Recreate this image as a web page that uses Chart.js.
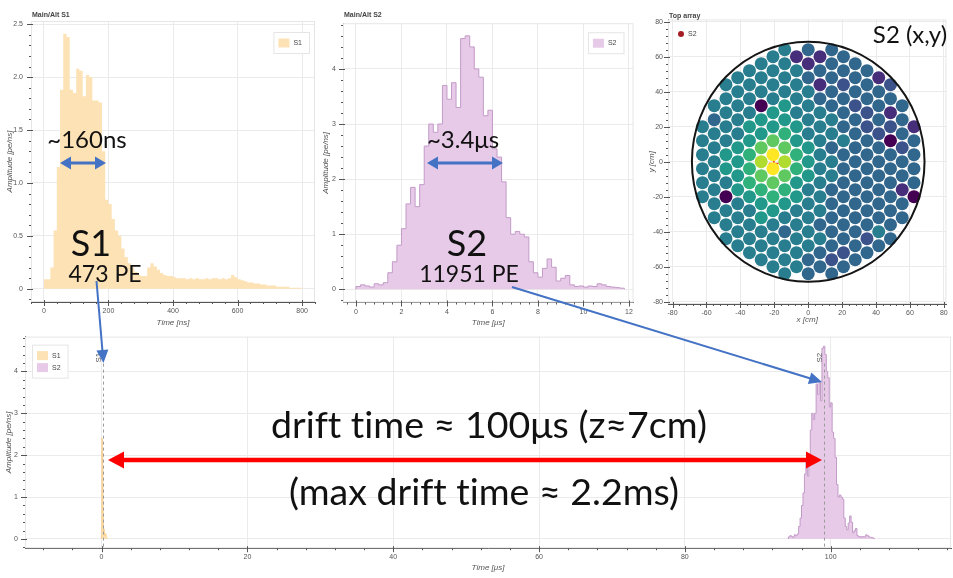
<!DOCTYPE html>
<html>
<head>
<meta charset="utf-8">
<title>S1 / S2 event display</title>
<script src="https://cdn.jsdelivr.net/npm/chart.js@4.4.1/dist/chart.umd.min.js"></script>
<style>
  html, body { margin: 0; padding: 0; background: #fff; }
  body { position: relative; width: 953px; height: 578px; overflow: hidden; }
  .panel { position: absolute; }
  #notes { position: absolute; left: 0; top: 0; }
  #notes text { font-family: Lato, 'Open Sans', sans-serif; fill: #111; text-anchor: middle;
    font-variant-ligatures: none; font-feature-settings: "liga" 0, "clig" 0; }
</style>
</head>
<body>
<div class="panel" style="left:0;top:0;width:320px;height:330px"><canvas id="s1Chart"></canvas></div>
<div class="panel" style="left:314px;top:0;width:326px;height:330px"><canvas id="s2Chart"></canvas></div>
<div class="panel" style="left:640px;top:0;width:313px;height:330px"><canvas id="topChart"></canvas></div>
<div class="panel" style="left:0;top:330px;width:953px;height:248px"><canvas id="eventChart"></canvas></div>
<svg id="notes" width="953" height="578">
  <text x="87" y="148" font-size="24">~160ns</text>
  <text x="91" y="256" font-size="36">S1</text>
  <text x="105" y="282" font-size="23">473 PE</text>
  <text x="463" y="148" font-size="24">~3.4μs</text>
  <text x="467" y="256" font-size="36">S2</text>
  <text x="469" y="282" font-size="23">11951 PE</text>
  <text x="910" y="43" font-size="24">S2 (x,y)</text>
  <text x="489" y="438" font-size="37.5">drift time ≈ 100μs (z≈7cm)</text>
  <text x="484" y="505" font-size="37.5">(max drift time ≈ 2.2ms)</text>
  <g id="arrows"></g>
</svg>
<script>
// S1 waveform: 10 ns bins from 0 ns, amplitude in pe/ns
const s1BinNs = 10;
const s1Amp = [
  0.09, 0.09, 0.2, 0.55, 1.15, 1.88, 2.41, 2.38, 1.88, 1.85,
  2.08, 2.06, 1.82, 2.02, 2.0, 1.78, 1.78, 1.76, 1.3, 0.84,
  0.8, 0.66, 0.55, 0.5, 0.38, 0.3, 0.24, 0.2, 0.16, 0.13,
  0.12, 0.12, 0.2, 0.24, 0.21, 0.18, 0.15, 0.13, 0.12, 0.12,
  0.11, 0.1, 0.1, 0.1, 0.09, 0.1, 0.09, 0.1, 0.09, 0.09,
  0.1, 0.09, 0.1, 0.1, 0.09, 0.1, 0.09, 0.1, 0.13, 0.11,
  0.09, 0.08, 0.07, 0.06, 0.06, 0.05, 0.05, 0.04, 0.04, 0.03,
  0.03, 0.03, 0.02, 0.02, 0.02, 0.02, 0.01, 0.01, 0.01, 0.01
];

// S2 waveform: 0.2 us bins from 0 us, amplitude in pe/ns
const s2BinUs = 0.2;
const s2Amp = [
  0.05, 0.08, 0.06, 0.04, 0.1, 0.08, 0.12, 0.3, 0.5, 0.8,
  1.1, 1.55, 1.85, 1.5, 1.9, 2.6, 3.0, 2.85, 3.0, 3.7,
  3.45, 3.75, 3.3, 4.55, 4.6, 4.4, 4.0, 3.85, 3.15, 3.25,
  2.55, 2.4, 1.95, 1.3, 1.0, 1.05, 1.0, 0.95, 0.5, 0.3,
  0.22, 0.38, 0.55, 0.4, 0.15, 0.2, 0.25, 0.08, 0.05, 0.06,
  0.04, 0.06, 0.05, 0.1, 0.08, 0.05, 0.04, 0.03, 0.02
];

// where the peaks sit in the full event (us)
const s2StartUs = 94.2;
const peakNames = ['S1', 'S2'];
const peakTimesUs = [0.2, 99.1];

// tick labels
const s1TicksX = [0, 200, 400, 600, 800];
const s1TicksY = [0, 0.5, 1, 1.5, 2, 2.5];
const s2TicksX = [0, 2, 4, 6, 8, 10, 12];
const s2TicksY = [0, 1, 2, 3, 4];
const topTicks = [-80, -60, -40, -20, 0, 20, 40, 60, 80];
const eventTicksX = [0, 20, 40, 60, 80, 100];
const eventTicksY = [0, 1, 2, 3, 4];

// top array: colour level of each PMT (0 dark .. 9 bright), one string per
// column from x = -9 to +9 column steps, read from top to bottom
const pmtColumns = [
  '444444',
  '434444444',
  '444445540444',
  '4444455554444',
  '44445566654444',
  '444055787655444',
  '4444557997654444',
  '44445567876543444',
  '1444455665544444',
  '31344445554444433',
  '1313444444443433',
  '33333443443333323',
  '3323334333333323',
  '333233333333333',
  '33322333333323',
  '1333233333343',
  '231203333333',
  '333233133',
  '133330'
];
const pmtLevel = [0.0, 0.13, 0.25, 0.33, 0.42, 0.53, 0.64, 0.75, 0.88, 1.0];
const pmtPitchCm = 8.0;
const pmtColumnStepCm = 6.93;
const tpcRadiusCm = 68.6;
const s2PosX = [-20.3];
const s2PosY = [-1.0];

const S1_FILL = '#fde2b5';
const S1_LINE = '#f8cf8f';
const S2_FILL = '#e7c9e8';
const S2_LINE = '#c39bc8';

const viridisStops = ['#440154', '#482475', '#414487', '#355f8d', '#2a788e', '#21918c',
  '#22a884', '#44bf70', '#7ad151', '#bddf26', '#fde725'];

function viridis(t) {
  const f = Math.max(0, Math.min(1, t)) * 10;
  const i = Math.min(9, Math.floor(f));
  const a = viridisStops[i], b = viridisStops[i + 1], k = f - i;
  const ch = (h, o) => parseInt(h.substr(o, 2), 16);
  const mix = o => Math.round(ch(a, o) + (ch(b, o) - ch(a, o)) * k);
  return `rgb(${mix(1)},${mix(3)},${mix(5)})`;
}

function histPoints(values, binWidth, start) {
  const pts = [{ x: start, y: 0 }];
  values.forEach((v, i) => pts.push({ x: start + i * binWidth, y: v }));
  pts.push({ x: start + values.length * binWidth, y: 0 });
  return pts;
}

Chart.defaults.font.family = "'Liberation Sans', Arial, sans-serif";
Chart.defaults.color = '#555';

function axis(min, max, ticks, title, size, labelPad, titlePad) {
  return {
    type: 'linear', min, max,
    afterBuildTicks: s => { s.ticks = ticks.map(v => ({ value: v })); },
    afterFit: s => {
      if (s.isHorizontal()) { s.height = size; s.paddingLeft = 0; s.paddingRight = 0; }
      else { s.width = size; s.paddingTop = 0; s.paddingBottom = 0; }
    },
    grid: { color: '#ebebeb', drawTicks: false },
    border: { display: true, color: '#555', width: 1 },
    ticks: { font: { size: 7 }, color: '#555', padding: labelPad, maxRotation: 0, autoSkip: false },
    title: { display: true, text: title, color: '#555', font: { size: 8, style: 'italic' },
      padding: { top: titlePad, bottom: titlePad } }
  };
}

function drawTicks(ctx, scale, a, horizontal) {
  const major = scale.ticks[1].value - scale.ticks[0].value;
  const minor = major / 5;
  const k0 = Math.ceil(scale.min / minor - 1e-6), k1 = Math.floor(scale.max / minor + 1e-6);
  ctx.beginPath();
  for (let k = k0; k <= k1; k++) {
    const isMajor = k % 5 === 0;
    const p = Math.round(scale.getPixelForValue(k * minor)) + 0.5;
    if (horizontal) {
      ctx.moveTo(p, a.bottom - (isMajor ? 2 : 0));
      ctx.lineTo(p, a.bottom + (isMajor ? 4 : 2));
    } else {
      ctx.moveTo(a.left + (isMajor ? 2 : 0), p);
      ctx.lineTo(a.left - (isMajor ? 4 : 2), p);
    }
  }
  ctx.stroke();
}

const bokehLook = {
  id: 'bokehLook',
  beforeDatasetsDraw(chart) {
    const { ctx, chartArea: a } = chart;
    ctx.save();
    ctx.strokeStyle = '#e6e6e6';
    ctx.lineWidth = 1;
    ctx.strokeRect(a.left + 0.5, a.top + 0.5, a.width - 1, a.height - 1);
    ctx.restore();
  },
  afterDatasetsDraw(chart, args, o) {
    const { ctx, chartArea: a, scales: { x, y } } = chart;
    ctx.save();
    if (o.ring) {
      const cx = x.getPixelForValue(0), cy = y.getPixelForValue(0);
      ctx.beginPath();
      ctx.ellipse(cx, cy, x.getPixelForValue(o.ring) - cx, cy - y.getPixelForValue(o.ring), 0, 0, Math.PI * 2);
      ctx.strokeStyle = '#151515';
      ctx.lineWidth = 2;
      ctx.stroke();
    }
    if (o.peaks) {
      o.peaks.times.forEach((t, i) => {
        const px = Math.round(x.getPixelForValue(t)) + 0.5;
        ctx.beginPath();
        ctx.setLineDash([3, 3]);
        ctx.strokeStyle = '#9a9a9a';
        ctx.lineWidth = 1;
        ctx.moveTo(px, a.top + 27);
        ctx.lineTo(px, a.bottom);
        ctx.stroke();
        ctx.setLineDash([]);
        ctx.save();
        ctx.translate(px - 5, a.top + 21);
        ctx.rotate(-Math.PI / 2);
        ctx.font = "8px 'Liberation Sans'";
        ctx.fillStyle = '#555';
        ctx.textAlign = 'center';
        ctx.textBaseline = 'middle';
        ctx.fillText(o.peaks.names[i], 0, 0);
        ctx.restore();
      });
    }
    ctx.restore();
  },
  afterDraw(chart, args, o) {
    const { ctx, chartArea: a, scales: { x, y } } = chart;
    ctx.save();
    ctx.strokeStyle = '#555';
    ctx.lineWidth = 1;
    drawTicks(ctx, x, a, true);
    drawTicks(ctx, y, a, false);
    if (o.title) {
      ctx.font = "bold 7px 'Liberation Sans'";
      ctx.fillStyle = '#444';
      ctx.textBaseline = 'alphabetic';
      ctx.fillText(o.title, a.left + 1, a.top - o.titleDy);
    }
    if (o.legend) {
      const L = o.legend;
      ctx.font = "7px 'Liberation Sans'";
      const textW = Math.max(...L.items.map(it => ctx.measureText(it.label).width));
      const w = 5 + 11 + 4 + textW + 8;
      const h = L.items.length * 12 + 10;
      const left = L.right != null ? a.right - L.right - w : a.left + L.left;
      const top = a.top + L.top;
      if (L.box) {
        ctx.fillStyle = '#fff';
        ctx.fillRect(left, top, w, h);
        ctx.strokeStyle = '#e5e5e5';
        ctx.strokeRect(left + 0.5, top + 0.5, w - 1, h - 1);
      }
      ctx.textBaseline = 'middle';
      L.items.forEach((it, i) => {
        const cy = top + 5 + 6 + i * 12;
        if (it.dot) {
          ctx.beginPath();
          ctx.arc(left + 8, cy, 3, 0, Math.PI * 2);
          ctx.fillStyle = it.color;
          ctx.fill();
        } else {
          ctx.fillStyle = it.color;
          ctx.fillRect(left + 5, cy - 4.5, 11, 9);
        }
        ctx.fillStyle = '#444';
        ctx.fillText(it.label, left + (it.dot ? 15 : 20), cy);
      });
    }
    ctx.restore();
  }
};
Chart.register(bokehLook);

function baseOptions(padding, look, xAxis, yAxis) {
  return {
    responsive: true,
    maintainAspectRatio: false,
    animation: false,
    layout: { padding },
    plugins: { legend: { display: false }, tooltip: { enabled: false }, bokehLook: look },
    scales: { x: xAxis, y: yAxis },
    elements: { point: { radius: 0 }, line: { tension: 0 } }
  };
}

function stepSet(label, pts, fill, line, width) {
  return { label, data: pts, stepped: 'before', fill: 'origin', backgroundColor: fill,
    borderColor: line, borderWidth: width, pointRadius: 0 };
}

// S1 zoom
new Chart(document.getElementById('s1Chart'), {
  type: 'line',
  data: { datasets: [stepSet('S1', histPoints(s1Amp, s1BinNs, 0), S1_FILL, S1_FILL, 0)] },
  options: baseOptions({ top: 21, right: 5, left: 0, bottom: 0 },
    { title: 'Main/Alt S1', titleDy: 4,
      legend: { right: 5, top: 11, box: true, items: [{ label: 'S1', color: S1_FILL }] } },
    axis(-40, 840, s1TicksX, 'Time [ns]', 28, 5, 2.2),
    axis(-0.125, 2.53, s1TicksY, 'Amplitude [pe/ns]', 31, 8, 5.2))
});

// S2 zoom
new Chart(document.getElementById('s2Chart'), {
  type: 'line',
  data: { datasets: [stepSet('S2', histPoints(s2Amp, s2BinUs, 0), S2_FILL, S2_LINE, 1)] },
  options: baseOptions({ top: 23.2, right: 6.5, left: 0, bottom: 0 },
    { title: 'Main/Alt S2', titleDy: 6,
      legend: { right: 9, top: 9, box: true, items: [{ label: 'S2', color: S2_FILL }] } },
    axis(-0.57, 12.2, s2TicksX, 'Time [μs]', 27.5, 5, 2.2),
    axis(-0.24, 4.83, s2TicksY, 'Amplitude [pe/ns]', 29, 7, 6.7))
});

// top PMT array
const pmtPoints = [], pmtColors = [];
pmtColumns.forEach((col, c) => {
  const x = (c - (pmtColumns.length - 1) / 2) * pmtColumnStepCm;
  const n = col.length;
  for (let k = 0; k < n; k++) {
    pmtPoints.push({ x, y: ((n - 1) / 2 - k) * pmtPitchCm });
    pmtColors.push(viridis(pmtLevel[+col[k]]));
  }
});

new Chart(document.getElementById('topChart'), {
  type: 'scatter',
  data: {
    datasets: [
      { label: 'PMTs', data: pmtPoints, pointRadius: 6.5, backgroundColor: pmtColors, borderWidth: 0 },
      { label: 'S2', data: s2PosX.map((x, i) => ({ x, y: s2PosY[i] })), pointStyle: 'cross',
        pointRadius: 5, borderColor: '#e8341c', borderWidth: 1.6 }
    ]
  },
  options: baseOptions({ top: 19.4, right: 1.2, left: 0, bottom: 0 },
    { title: 'Top array', titleDy: 1.5, ring: tpcRadiusCm,
      legend: { left: 5, top: 3.6, box: false, items: [{ label: 'S2', color: '#a51d24', dot: true }] } },
    axis(-82.7, 81.5, topTicks, 'x [cm]', 26, 5, 5.2),
    axis(-81.3, 81.3, topTicks, 'y [cm]', 28, 5, 7.2))
});

// full event
new Chart(document.getElementById('eventChart'), {
  type: 'line',
  data: {
    datasets: [
      stepSet('S1', histPoints(s1Amp, s1BinNs / 1000, 0), S1_FILL, S1_LINE, 1),
      stepSet('S2', histPoints(s2Amp, s2BinUs, s2StartUs), S2_FILL, S2_LINE, 1)
    ]
  },
  options: baseOptions({ top: 6.6, right: 2, left: 0, bottom: 0 },
    { peaks: { names: peakNames, times: peakTimesUs },
      legend: { left: 7, top: 8, box: true,
        items: [{ label: 'S1', color: S1_FILL }, { label: 'S2', color: S2_FILL }] } },
    axis(-10.5, 116.5, eventTicksX, 'Time [μs]', 29.8, 5, 5.2),
    axis(-0.22, 4.83, eventTicksY, 'Amplitude [pe/ns]', 25, 7, 4.2))
});

// slide arrows
const NS = 'http://www.w3.org/2000/svg';
const arrowLayer = document.getElementById('arrows');
function head(tx, ty, fx, fy, len, half, color) {
  const d = Math.hypot(tx - fx, ty - fy), ux = (tx - fx) / d, uy = (ty - fy) / d;
  const bx = tx - ux * len, by = ty - uy * len;
  const p = document.createElementNS(NS, 'polygon');
  p.setAttribute('points', `${tx},${ty} ${bx - uy * half},${by + ux * half} ${bx + uy * half},${by - ux * half}`);
  p.setAttribute('fill', color);
  arrowLayer.appendChild(p);
  return [bx + ux * 1, by + uy * 1];
}
function arrow(x1, y1, x2, y2, color, width, len, half, both) {
  const [ex, ey] = head(x2, y2, x1, y1, len, half, color);
  let sx = x1, sy = y1;
  if (both) [sx, sy] = head(x1, y1, x2, y2, len, half, color);
  const l = document.createElementNS(NS, 'line');
  l.setAttribute('x1', sx); l.setAttribute('y1', sy);
  l.setAttribute('x2', ex); l.setAttribute('y2', ey);
  l.setAttribute('stroke', color); l.setAttribute('stroke-width', width);
  arrowLayer.appendChild(l);
}
arrow(60, 163, 106, 163, '#4472c4', 3, 11, 6.5, true);
arrow(427, 163, 503, 163, '#4472c4', 3, 11, 6.5, true);
arrow(96.5, 281, 103.5, 363, '#4472c4', 2, 13, 6, false);
arrow(512, 287, 822, 382, '#4472c4', 2, 13, 6, false);
arrow(108, 460, 822, 460, '#ff0000', 4.5, 16, 8.5, true);
</script>
</body>
</html>
